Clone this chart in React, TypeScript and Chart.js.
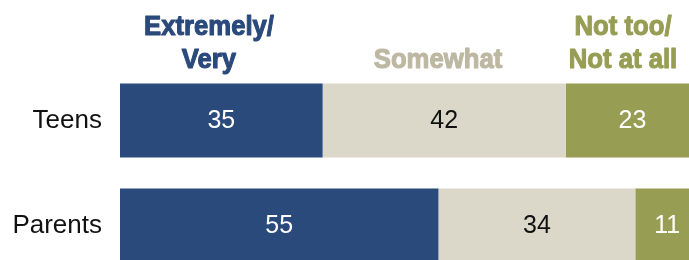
import React, { useEffect, useRef } from "react";
import { Chart, registerables } from "chart.js";

Chart.register(...registerables);

const categories = ["Teens", "Parents"];
const seriesNames = ["Extremely/Very", "Somewhat", "Not too/Not at all"];
const extremelyVery = [35, 55];
const somewhat = [42, 34];
const notTooNotAtAll = [23, 11];

const BLUE = "#2b4a7c";
const TAN = "#dbd8c9";
const OLIVE = "#979e53";

const headerLines: string[][] = [["Extremely/", "Very"], ["Somewhat"], ["Not too/", "Not at all"]];
const headerColors = [BLUE, "#bdb8a2", OLIVE];

export default function App() {
  const ref = useRef<HTMLCanvasElement | null>(null);

  useEffect(() => {
    const canvas = ref.current!;
    const valueLabels = {
      id: "valueLabels",
      afterDatasetsDraw(chart: any) {
        const ctx = chart.ctx;
        ctx.save();
        ctx.font = "25px 'Liberation Sans', Arial, sans-serif";
        ctx.textAlign = "center";
        ctx.textBaseline = "middle";
        chart.data.datasets.forEach((ds: any, di: number) => {
          const meta = chart.getDatasetMeta(di);
          meta.data.forEach((el: any, i: number) => {
            const p = el.getCenterPoint();
            ctx.fillStyle = di === 1 ? "#111" : "#fff";
            ctx.fillText(String(ds.data[i]), p.x, p.y + 1);
          });
        });
        ctx.restore();
      },
    };
    const headers = {
      id: "headers",
      afterDraw(chart: any) {
        const ctx = chart.ctx;
        const xs = [209, 438, 623];
        ctx.save();
        ctx.font = "bold 28px 'Liberation Sans', Arial, sans-serif";
        ctx.textAlign = "center";
        ctx.textBaseline = "alphabetic";
        ctx.lineJoin = "round";
        const sx = 130 / ctx.measureText("Extremely/").width;
        headerLines.forEach((lines, k) => {
          ctx.fillStyle = headerColors[k];
          ctx.strokeStyle = headerColors[k];
          ctx.lineWidth = 1.1;
          const n = lines.length;
          lines.forEach((line, j) => {
            const baseline = 68 - (n - 1 - j) * 33;
            ctx.save();
            ctx.translate(xs[k], baseline);
            ctx.scale(sx, 1);
            ctx.fillText(line, 0, 0);
            ctx.strokeText(line, 0, 0);
            ctx.restore();
          });
        });
        ctx.restore();
      },
    };

    const chart = new Chart(canvas, {
      type: "bar",
      data: {
        labels: categories,
        datasets: [
          { label: seriesNames[0], data: extremelyVery, backgroundColor: BLUE },
          { label: seriesNames[1], data: somewhat, backgroundColor: TAN },
          { label: seriesNames[2], data: notTooNotAtAll, backgroundColor: OLIVE },
        ],
      },
      options: {
        indexAxis: "y",
        responsive: false,
        animation: false,
        devicePixelRatio: 1,
        layout: { padding: { top: 68, right: 21, bottom: 12, left: 0 } },
        datasets: { bar: { categoryPercentage: 1, barPercentage: 0.705, borderWidth: 0 } },
        plugins: { legend: { display: false }, tooltip: { enabled: false } },
        scales: {
          x: { stacked: true, min: 0, max: 100, display: false },
          y: {
            stacked: true,
            grid: { display: false, drawTicks: false },
            border: { display: false },
            ticks: {
              color: "#111",
              padding: 18,
              font: { family: "'Liberation Sans', Arial, sans-serif", size: 26 },
            },
            afterFit(scale: any) {
              scale.width = 120;
              scale.paddingTop = 0;
              scale.paddingBottom = 0;
            },
          },
        },
      },
      plugins: [valueLabels, headers],
    });
    return () => chart.destroy();
  }, []);

  return (
    <canvas
      ref={ref}
      width={720}
      height={290}
      style={{ position: "fixed", left: 0, top: 0, width: 720, height: 290 }}
    />
  );
}
